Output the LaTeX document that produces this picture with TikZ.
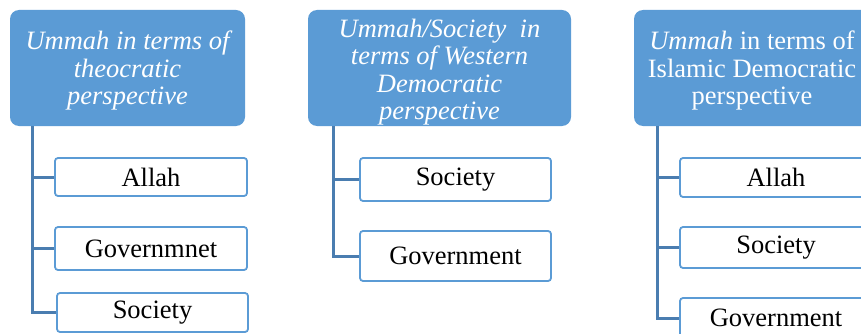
\documentclass[tikz,border=0pt]{standalone}
\usepackage{fontspec}
\setmainfont{Liberation Serif}
\begin{document}
\begin{tikzpicture}[x=1pt,y=-1pt,
  head/.style={fill=hfill, draw=none, rounded corners=9pt, inner sep=0pt},
  headtext/.style={text=white, align=center, inner sep=0pt,
    font=\fontsize{26.5}{27.5}\selectfont},
  child/.style={draw=hfill, line width=1.8pt, fill=white, rounded corners=3pt, inner sep=0pt,
    font=\fontsize{26.5}{28}\selectfont},
  trunk/.style={draw=tcol, line width=3pt}]
\definecolor{hfill}{HTML}{5B9BD5}
\definecolor{tcol}{HTML}{4A7DB0}
\useasboundingbox (0,0) rectangle (861,334);
% column 1
\node[head, minimum width=235pt, minimum height=116pt] (h1) at (127.5,68) {};
\node[headtext] (h1t) at (127.5,70.5)
  {\itshape Ummah in terms of\\ \itshape theocratic\\ \itshape perspective};
\coordinate (t1) at (32,126);
\node[child, minimum width=192pt, minimum height=38pt] (a1) at (151,177) {Allah};
\node[child, minimum width=192pt, minimum height=43pt] (b1) at (151,248.5) {Governmnet};
\node[child, minimum width=191pt, minimum height=39pt] (c1) at (152.5,312.5) {Society};
\draw[trunk] (t1) |- (c1.west);
\draw[trunk] (t1) |- (a1.west);
\draw[trunk] (t1) |- (b1.west);
% column 2
\node[head, minimum width=263pt, minimum height=116pt] (h2) at (439.5,68) {};
\node[headtext] (h2t) at (439.5,72)
  {\itshape Ummah/Society\ \ in\\ \itshape terms of Western\\ \itshape Democratic\\ \itshape perspective};
\coordinate (t2) at (333,126);
\node[child, minimum width=191pt, minimum height=43pt] (a2) at (455.5,179.5) {Society};
\node[child, minimum width=191pt, minimum height=50pt] (b2) at (455.5,256) {Government};
\draw[trunk] (t2) |- (b2.west);
\draw[trunk] (t2) |- (a2.west);
% column 3
\node[head, minimum width=236pt, minimum height=116pt] (h3) at (752,68) {};
\node[headtext] (h3t) at (752,70.5)
  {\textit{Ummah} in terms of\\ Islamic Democratic\\ perspective};
\coordinate (t3) at (657,126);
\node[child, minimum width=192pt, minimum height=39pt] (a3) at (776,177.5) {Allah};
\node[child, minimum width=192pt, minimum height=41pt] (b3) at (776,247.5) {Society};
\node[child, minimum width=192pt, minimum height=40pt] (c3) at (776,318) {Government};
\draw[trunk] (t3) |- (c3.west);
\draw[trunk] (t3) |- (a3.west);
\draw[trunk] (t3) |- (b3.west);
\end{tikzpicture}
\end{document}
